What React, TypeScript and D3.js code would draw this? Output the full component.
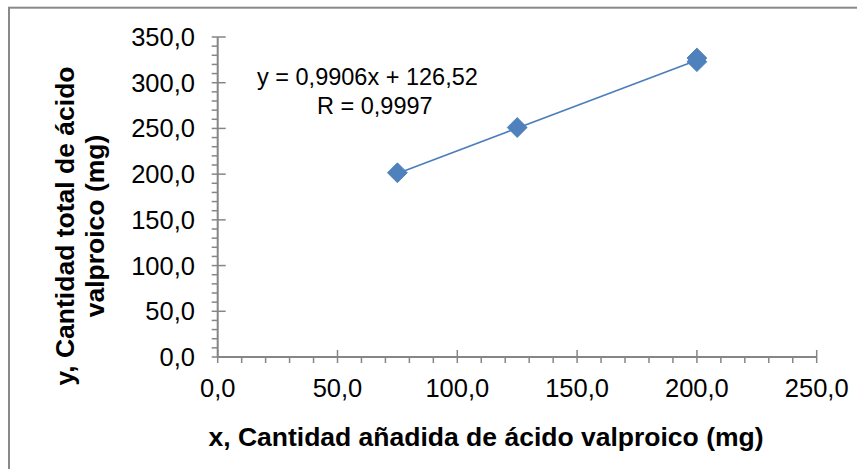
import React, { useEffect, useRef } from "react";
import * as d3 from "d3";

// Added amount (x) and total amount found (y) of valproic acid, in mg
const addedMg = [75, 125, 200, 200];
const totalMg = [201.5, 251.0, 323.0, 327.0];

// Fitted trendline as stated on the chart
const slope = 0.9906;
const intercept = 126.52;
const equationLabel = "y = 0,9906x + 126,52";
const rLabel = "R = 0,9997";

const xTicks = [0, 50, 100, 150, 200, 250];
const yTicks = [0, 50, 100, 150, 200, 250, 300, 350];

const xTitle = "x, Cantidad añadida de ácido valproico (mg)";
const yTitleLines = ["y, Cantidad total de ácido", "valproico (mg)"];

const W = 857;
const H = 469;
const FONT = "'Liberation Sans', Arial, sans-serif";
const AXIS = "#868686";
const BLUE = "#4F81BD";
const LINE_BLUE = "#4A7EBB";

const fmt = (v: number) => v.toFixed(1).replace(".", ",");

export default function App() {
  const ref = useRef<SVGSVGElement | null>(null);

  useEffect(() => {
    const svg = d3.select(ref.current);
    svg.selectAll("*").remove();

    const x = d3.scaleLinear().domain([0, 250]).range([217.7, 816.7]);
    const y = d3.scaleLinear().domain([0, 350]).range([357, 37]);

    // chart frame
    svg
      .append("rect")
      .attr("x", 9)
      .attr("y", 7.7)
      .attr("width", W + 20)
      .attr("height", H + 20)
      .attr("fill", "white")
      .attr("stroke", "#898989")
      .attr("stroke-width", 2);

    const g = svg.append("g");

    // minor ticks every 10
    const xMinor = d3.range(0, 251, 10).filter((v) => v % 50 !== 0);
    const yMinor = d3.range(0, 351, 10).filter((v) => v % 50 !== 0);

    g.selectAll(".xminor")
      .data(xMinor)
      .join("line")
      .attr("x1", (d) => x(d))
      .attr("x2", (d) => x(d))
      .attr("y1", y(0))
      .attr("y2", y(0) + 6)
      .attr("stroke", AXIS)
      .attr("stroke-width", 1.5);

    g.selectAll(".yminor")
      .data(yMinor)
      .join("line")
      .attr("x1", x(0) - 6)
      .attr("x2", x(0))
      .attr("y1", (d) => y(d))
      .attr("y2", (d) => y(d))
      .attr("stroke", AXIS)
      .attr("stroke-width", 1.5);

    // major ticks crossing the axes
    g.selectAll(".xmajor")
      .data(xTicks)
      .join("line")
      .attr("x1", (d) => x(d))
      .attr("x2", (d) => x(d))
      .attr("y1", y(0) - 7)
      .attr("y2", y(0) + 6)
      .attr("stroke", AXIS)
      .attr("stroke-width", 1.5);

    g.selectAll(".ymajor")
      .data(yTicks)
      .join("line")
      .attr("x1", x(0) - 6)
      .attr("x2", x(0) + 8)
      .attr("y1", (d) => y(d))
      .attr("y2", (d) => y(d))
      .attr("stroke", AXIS)
      .attr("stroke-width", 1.5);

    // axis lines
    g.append("line")
      .attr("x1", x(0))
      .attr("x2", x(250))
      .attr("y1", y(0))
      .attr("y2", y(0))
      .attr("stroke", AXIS)
      .attr("stroke-width", 2);
    g.append("line")
      .attr("x1", x(0))
      .attr("x2", x(0))
      .attr("y1", y(0))
      .attr("y2", y(350))
      .attr("stroke", AXIS)
      .attr("stroke-width", 2);

    // tick labels
    g.selectAll(".xlab")
      .data(xTicks)
      .join("text")
      .attr("x", (d) => x(d))
      .attr("y", 397)
      .attr("text-anchor", "middle")
      .attr("font-family", FONT)
      .attr("font-size", 25.5)
      .attr("fill", "#000")
      .text((d) => fmt(d));

    g.selectAll(".ylab")
      .data(yTicks)
      .join("text")
      .attr("x", 195)
      .attr("y", (d) => y(d) + 9)
      .attr("text-anchor", "end")
      .attr("font-family", FONT)
      .attr("font-size", 25.5)
      .attr("fill", "#000")
      .text((d) => fmt(d));

    // trendline over the data range
    const [x0, x1] = d3.extent(addedMg) as [number, number];
    const trend = d3
      .line<number>()
      .x((d) => x(d))
      .y((d) => y(slope * d + intercept));
    g.append("path")
      .attr("d", trend([x0, x1]))
      .attr("fill", "none")
      .attr("stroke", LINE_BLUE)
      .attr("stroke-width", 1.6);

    // diamond markers
    const diamond = d3.symbol().type(d3.symbolDiamond2).size(250);
    g.selectAll(".pt")
      .data(addedMg.map((v, i) => [v, totalMg[i]]))
      .join("path")
      .attr("d", diamond() as string)
      .attr("transform", (d) => `translate(${x(d[0])},${y(d[1])})`)
      .attr("fill", BLUE)
      .attr("stroke", BLUE)
      .attr("stroke-width", 1);

    // equation label
    g.append("text")
      .attr("x", 257)
      .attr("y", 85)
      .attr("font-family", FONT)
      .attr("font-size", 23.5)
      .attr("fill", "#000")
      .text(equationLabel);
    g.append("text")
      .attr("x", 317)
      .attr("y", 114)
      .attr("font-family", FONT)
      .attr("font-size", 23.5)
      .attr("fill", "#000")
      .text(rLabel);

    // axis titles
    g.append("text")
      .attr("x", 486)
      .attr("y", 446)
      .attr("text-anchor", "middle")
      .attr("font-family", FONT)
      .attr("font-weight", "bold")
      .attr("font-size", 26.5)
      .attr("fill", "#000")
      .text(xTitle);

    g.selectAll(".ytitle")
      .data(yTitleLines)
      .join("text")
      .attr("transform", (_, i) => `translate(${74 + i * 30},226) rotate(-90)`)
      .attr("text-anchor", "middle")
      .attr("font-family", FONT)
      .attr("font-weight", "bold")
      .attr("font-size", 26.5)
      .attr("fill", "#000")
      .text((d) => d);
  }, []);

  return (
    <svg
      ref={ref}
      width={W}
      height={H}
      style={{ position: "absolute", left: 0, top: 0, overflow: "hidden" }}
    />
  );
}
